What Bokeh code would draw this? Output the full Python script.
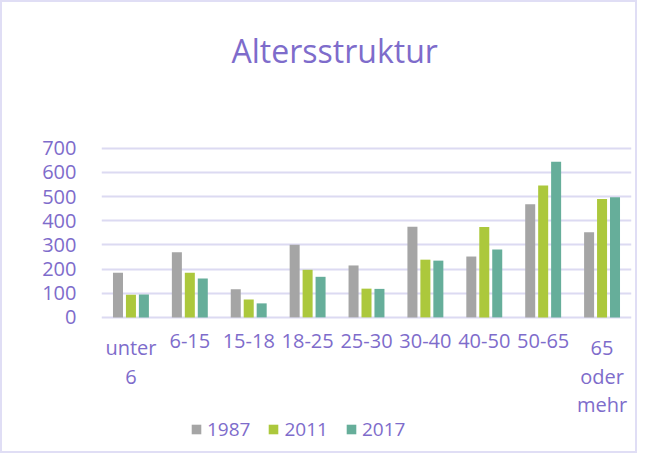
from bokeh.plotting import figure
from bokeh.models import ColumnDataSource, FixedTicker, Legend, LegendItem
from bokeh.transform import dodge
from bokeh.core.properties import value
from bokeh.embed import file_html
from bokeh.resources import INLINE

categories = ["unter\n6", "6-15", "15-18", "18-25", "25-30", "30-40", "40-50", "50-65", "65\noder\nmehr"]
v1987 = [185, 270, 117, 301, 215, 375, 252, 468, 353]
v2011 = [94, 185, 74, 197, 119, 239, 374, 546, 490]
v2017 = [95, 161, 58, 168, 118, 235, 281, 644, 497]
series_names = ["1987", "2011", "2017"]
y_ticks = [0, 100, 200, 300, 400, 500, 600, 700]
title_text = "Altersstruktur"

TXT = "#7E6CCB"
GRID = "#DCDAF2"
colors = ["#A5A5A5", "#ACC83C", "#66AE9A"]
FONT = "Open Sans"

xs = list(range(len(categories)))
src = ColumnDataSource(dict(x=xs, a=v1987, b=v2011, c=v2017))

# frame covers the whole canvas height; the value axis spans 0..700 inside it
p = figure(width=637, height=453, output_backend="svg", toolbar_location=None,
           x_range=(-0.5, len(categories) - 0.5), y_range=(-572, 1304),
           min_border_left=99, min_border_right=8, min_border_top=0, min_border_bottom=0)
p.styles = {"border": "2px solid #E0DEF5"}

offs = [-0.22, 0.0, 0.22]
rs = []
for col, off, c in zip(["a", "b", "c"], offs, colors):
    r = p.vbar(x=dodge("x", off), top=col, width=0.17, source=src,
               fill_color=c, line_color=None)
    rs.append(r)

# category labels
lab_src = ColumnDataSource(dict(x=xs, y=[-70] * len(xs), t=categories))
p.text(x="x", y="y", text="t", source=lab_src, text_align="center", text_baseline="top",
       text_font=value(FONT), text_font_size="20px", text_color=TXT, text_line_height=1.05)

# title
p.text(x=[3.46], y=[1106], text=[title_text], text_align="center", text_baseline="alphabetic",
       text_font=value(FONT), text_font_size="32px", text_color=TXT)

p.outline_line_color = None
p.background_fill_color = "white"
p.border_fill_color = "white"

p.xgrid.grid_line_color = None
p.ygrid.grid_line_color = GRID
p.ygrid.grid_line_width = 2
p.ygrid.ticker = FixedTicker(ticks=y_ticks)

p.xaxis.visible = False

p.yaxis.ticker = FixedTicker(ticks=y_ticks)
p.yaxis.axis_line_color = None
p.yaxis.major_tick_line_color = None
p.yaxis.minor_tick_line_color = None
p.yaxis.major_label_standoff = 19
p.yaxis.major_label_text_font = FONT
p.yaxis.major_label_text_font_size = "20px"
p.yaxis.major_label_text_color = TXT

legend = Legend(items=[LegendItem(label=n, renderers=[r]) for n, r in zip(series_names, rs)],
                orientation="horizontal", location=(89, 13),
                label_text_font=FONT, label_text_font_size="19px", label_text_color=TXT,
                glyph_width=12, glyph_height=12, label_standoff=5, spacing=17,
                padding=0, margin=0, border_line_color=None, background_fill_alpha=0)
p.add_layout(legend, "center")

open("out.html", "w").write(file_html(p, INLINE))
